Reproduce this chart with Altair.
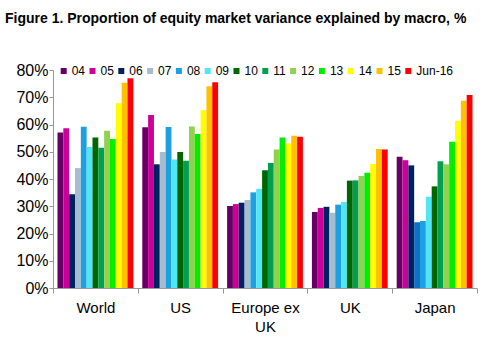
import altair as alt
import pandas as pd

regions = ["World", "US", "Europe ex UK", "UK", "Japan"]
series = ["04", "05", "06", "07", "08", "09", "10", "11", "12", "13", "14", "15", "Jun-16"]
colors = ["#660066", "#CC0099", "#002060", "#A6BDD0", "#1EA0E0", "#4FE6F5",
          "#006600", "#00A050", "#92D050", "#00EE00", "#FFFF00", "#FFC000", "#FF0000"]

world = [57.1, 58.6, 34.4, 44.0, 59.2, 51.7, 55.2, 51.5, 57.7, 54.7, 67.8, 75.3, 77.0]
us = [59.0, 63.5, 45.4, 49.9, 59.1, 47.2, 49.9, 46.7, 59.3, 56.5, 65.2, 74.0, 75.5]
europe = [30.1, 30.8, 31.3, 32.3, 35.1, 36.4, 43.2, 45.9, 50.8, 55.2, 53.1, 55.9, 55.5]
uk = [27.9, 29.4, 29.8, 27.6, 30.6, 31.6, 39.4, 39.5, 41.1, 42.3, 45.5, 51.0, 50.8]
japan = [48.2, 46.9, 45.0, 24.1, 24.6, 33.5, 37.3, 46.5, 45.4, 53.7, 61.4, 68.7, 70.8]

rows = []
for r, vals in zip(regions, [world, us, europe, uk, japan]):
    for s, v in zip(series, vals):
        rows.append({"region": r, "series": s, "value": v})
df = pd.DataFrame(rows)

FONT = "Liberation Sans, Arial, sans-serif"

x_enc = alt.X("region:N", sort=regions,
              scale=alt.Scale(domain=regions, paddingInner=0, paddingOuter=0),
              axis=alt.Axis(title=None, labelAngle=0, tickBand="extent",
                            labelFontSize=15, labelFont=FONT, labelColor="black",
                            domainColor="#999999", tickColor="#999999", tickSize=5,
                            labelPadding=7, labelLineHeight=19,
                            labelExpr="datum.value == 'Europe ex UK' ? ['Europe ex', 'UK'] : datum.value"))
xo_enc = alt.XOffset("series:N", sort=series,
                     scale=alt.Scale(domain=series, paddingInner=0, paddingOuter=0.77))
y_enc = alt.Y("value:Q", scale=alt.Scale(domain=[0, 80]),
              axis=alt.Axis(title=None, values=list(range(0, 90, 10)), grid=False,
                            labelExpr="datum.value + '%'", labelFontSize=16,
                            labelFont=FONT, labelColor="black",
                            domainColor="#999999", tickColor="#999999",
                            tickSize=4, labelPadding=1))

bars = alt.Chart(df).mark_bar().encode(
    x=x_enc, xOffset=xo_enc, y=y_enc,
    color=alt.Color("series:N", sort=series,
                    scale=alt.Scale(domain=series, range=colors),
                    legend=alt.Legend(orient="none", legendX=4.7, legendY=-5,
                                      direction="horizontal", columns=13, title=None,
                                      symbolType="square", symbolSize=36,
                                      symbolStrokeWidth=0, labelFontSize=12,
                                      labelFont=FONT, labelColor="black",
                                      columnPadding=0.8, labelOffset=2, padding=0)),
)

# In the original, Japan's 2007 bar is drawn in a darker blue
japan07 = alt.Chart(df).transform_filter(
    "datum.region == 'Japan' && datum.series == '07'"
).mark_bar(color="#1070C8").encode(x=x_enc, xOffset=xo_enc, y=y_enc)

chart = alt.layer(bars, japan07).properties(
    width=424, height=218,
    title=alt.TitleParams("Figure 1. Proportion of equity market variance explained by macro, %",
                          anchor="start", frame="group", dx=-48, offset=36, fontSize=14,
                          font=FONT, fontWeight="bold", color="black"),
    autosize="none",
    padding={"left": 53, "top": 70, "right": 11, "bottom": 62},
).configure_view(stroke=None)

chart.save("out.html", embed_options={"renderer": "svg", "actions": False})
